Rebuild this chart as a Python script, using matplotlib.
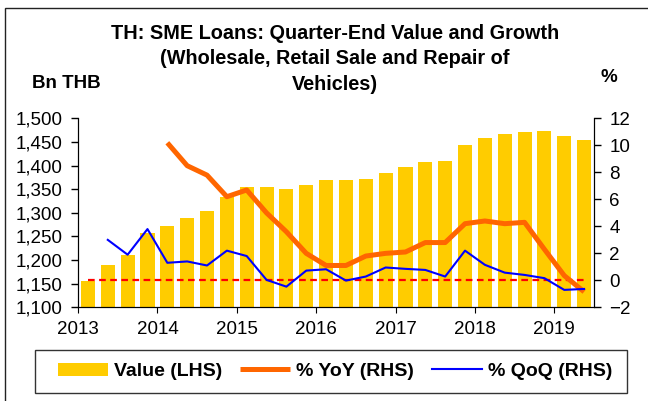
import matplotlib.pyplot as plt
from matplotlib.patches import Rectangle
import numpy as np

plt.rcParams['font.family'] = ['Liberation Sans', 'DejaVu Sans']

# quarters 2013Q1 .. 2019Q2
quarters = [(y, q) for y in range(2013, 2020) for q in range(1, 5)][:26]

value = [1156, 1190, 1211, 1257, 1272, 1290, 1304, 1333, 1355, 1355,
         1350, 1359, 1369, 1369, 1372, 1385, 1397, 1407, 1411, 1443,
         1458, 1467, 1472, 1473, 1462, 1454]

# YoY starts 2014Q1, QoQ starts 2013Q2
yoy = [np.nan] * 4 + [10.2, 8.5, 7.8, 6.2, 6.7, 5.0, 3.6, 2.0, 1.1, 1.1,
                      1.8, 2.0, 2.1, 2.8, 2.8, 4.2, 4.4, 4.2, 4.3, 2.3,
                      0.35, -0.85]
qoq = [np.nan, 3.0, 1.9, 3.8, 1.3, 1.4, 1.1, 2.2, 1.8, 0.03,
       -0.47, 0.72, 0.82, -0.02, 0.28, 0.95, 0.85, 0.77, 0.28, 2.2,
       1.15, 0.57, 0.4, 0.16, -0.71, -0.64]

x = np.array([y + (q - 0.5) / 4 for y, q in quarters])

fig = plt.figure(figsize=(6.48, 4.01), dpi=100)
ax = fig.add_axes([0.1204, 0.2337, 0.7963, 0.4708])
ax2 = ax.twinx()

ax.bar(x, value, width=0.177, color='#FFCC00', label='Value (LHS)')
ax.set_ylim(1100, 1500)
ax.set_yticks(np.arange(1100, 1501, 50))
ax.yaxis.set_major_formatter(plt.FuncFormatter(lambda v, p: f'{v:,.0f}'))
ax.set_xlim(2013, 2019.5)
ax.set_xticks(range(2013, 2020))

ax2.plot([x[0], x[-1]], [0, 0], color='#FF0000', lw=1.6, ls=(0, (3, 2)))
ax2.plot(x, yoy, color='#FF6600', lw=3.6, label='% YoY (RHS)', solid_capstyle='butt')
ax2.plot(x, qoq, color='#0000FF', lw=1.5, label='% QoQ (RHS)')
ax2.set_ylim(-2, 12)
ax2.set_yticks(range(-2, 13, 2))

for a in (ax, ax2):
    a.spines['top'].set_visible(False)
    a.tick_params(axis='y', labelsize=13.5, length=5, width=1, pad=6)
ax.tick_params(axis='x', labelsize=13.5, length=4, pad=6)

fig.text(0.517, 0.853, 'TH: SME Loans: Quarter-End Value and Growth\n'
         '(Wholesale, Retail Sale and Repair of\nVehicles)',
         ha='center', va='center', fontsize=14.3, fontweight='bold', linespacing=1.45)
fig.text(0.049, 0.78, 'Bn THB', fontsize=13.5, fontweight='bold')
fig.text(0.926, 0.795, '%', fontsize=13.5, fontweight='bold')

h1, l1 = ax.get_legend_handles_labels()
h2, l2 = ax2.get_legend_handles_labels()
fig.legend(h1 + h2, l1 + l2, loc='center', ncol=3,
           bbox_to_anchor=(0.517, 0.0736), frameon=False,
           prop={'size': 14, 'weight': 'bold'},
           handlelength=2.6, handletextpad=0.3, columnspacing=0.9)

# legend frame and outer border
fig.patches.append(Rectangle((35 / 648, 8 / 401), 592 / 648, 43 / 401,
                             transform=fig.transFigure, fill=False,
                             edgecolor='#333333', lw=1))
fig.patches.append(Rectangle((5 / 648, -0.1), 1.1, 0.98 + 0.1,
                             transform=fig.transFigure, fill=False,
                             edgecolor='#222222', lw=1))

fig.savefig('out.png', dpi=100)
